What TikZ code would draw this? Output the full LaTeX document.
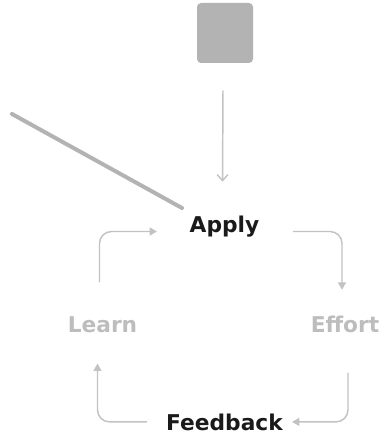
\documentclass[tikz,border=0pt]{standalone}
\usepackage{fontspec}
\setmainfont{DejaVu Sans}
\usepackage{tikz}
\usetikzlibrary{calc,arrows.meta}
\definecolor{pale}{HTML}{BDBDBD}
\definecolor{wire}{HTML}{C2C2C2}
\definecolor{tile}{HTML}{B3B3B3}
\definecolor{ink}{HTML}{1A1A1A}
\tikzset{
  lbl/.style={inner sep=0pt,font=\fontsize{16.3pt}{19pt}\selectfont\bfseries},
  flow/.style={draw=wire,line width=1.1pt,rounded corners=9pt,-{Triangle[width=6pt,length=5.5pt]}}
}

\begin{document}
\begin{tikzpicture}[x=0.75pt,y=-0.75pt]
\useasboundingbox (0,0) rectangle (383,438);
\node[fill=tile,rounded corners=3pt,minimum width=42pt,minimum height=45pt,inner sep=0pt] (box) at (225,33) {};
\node[lbl,text=ink,anchor=base] (apply) at (224.5,232.5) {Apply};
\node[lbl,text=pale,anchor=base] (learn) at (102.5,332) {Learn};
\node[lbl,text=pale,anchor=base] (effort) at (345,332) {Effort};
\node[lbl,text=ink,anchor=base] (feedback) at (224.5,430) {Feedback};
% stroke on the left
\draw[tile,line width=3pt,line cap=round] (12,114) -- (182,208);
% input arrow
\draw[wire,line width=1.1pt,-{Straight Barb[length=4.5pt,width=8pt]}] ($(box.south)+(-2,27)$) -- ($(apply.north)+(-2,-34)$);
% the loop
\draw[flow] ($(apply.base east)+(33.5,-1)$) -| ($(effort.north)+(-3,-25.5)$);
\draw[flow] ($(effort.south)+(3,40)$) |- ($(feedback.east)+(9,0)$);
\draw[flow] ($(feedback.west)+(-19,0)$) -| ($(learn.south)+(-5,31)$);
\draw[flow] ($(learn.north)+(-3,-33.5)$) |- ($(apply.base west)+(-32.5,-1)$);
\end{tikzpicture}
\end{document}
